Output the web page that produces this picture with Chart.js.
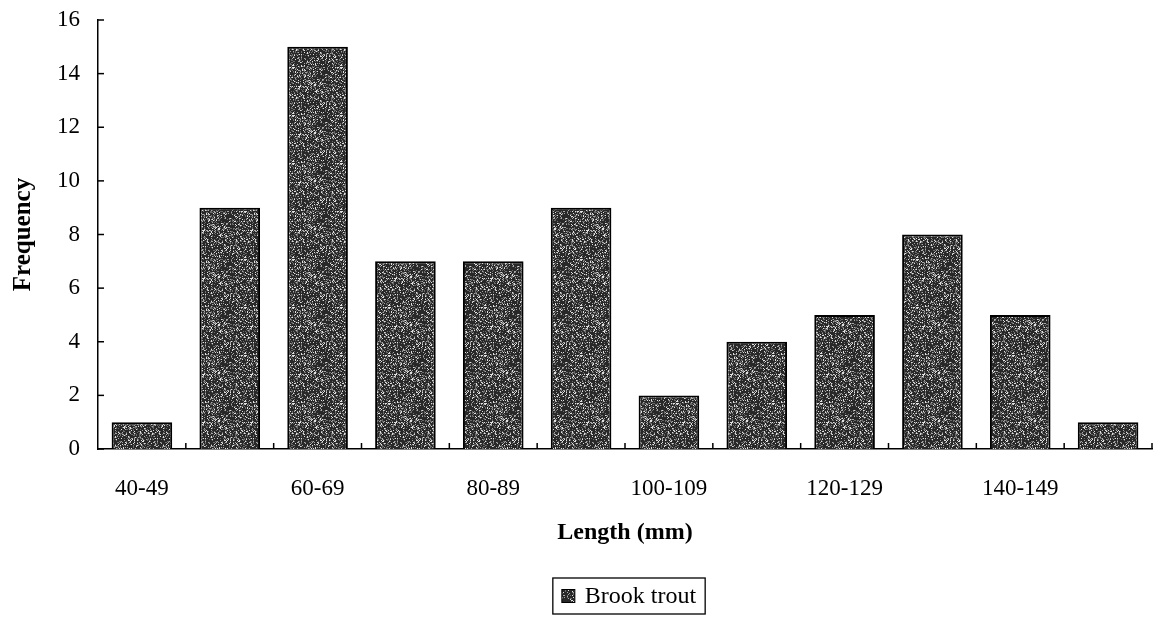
<!DOCTYPE html>
<html><head><meta charset="utf-8">
<script src="https://cdn.jsdelivr.net/npm/chart.js@4"></script>
<style>html,body{margin:0;padding:0;background:#fff;}#wrap{width:1163px;height:620px;}</style>
</head><body><div id="wrap"><canvas id="c" width="1163" height="620"></canvas></div>
<script>
const categories = ["40-49","50-59","60-69","70-79","80-89","90-99","100-109","110-119","120-129","130-139","140-149","150-159"];
const troutValues = [1, 9, 15, 7, 7, 9, 2, 4, 5, 8, 5, 1];
const yTicks = [0, 2, 4, 6, 8, 10, 12, 14, 16];
const seriesName = "Brook trout";

function makePattern(){
  const p = document.createElement('canvas'); p.width = 48; p.height = 48;
  const g = p.getContext('2d');
  g.fillStyle = '#282828'; g.fillRect(0,0,48,48);
  for (let y=0;y<48;y++) for (let x=0;x<48;x++){
    const h = ((x*73856093) ^ (y*19349663)) >>> 0;
    const v = h % 11;
    if (v < 4) { g.fillStyle = v===0 ? '#e0e0e0' : (v===1 ? '#a8a8a8' : '#6a6a6a'); g.fillRect(x,y,1,1); }
  }
  return g.createPattern(p,'repeat');
}
const pat = makePattern();
const FONT = "'Liberation Serif', 'Times New Roman', serif";

const tickPlugin = {
  id: 'ticks',
  afterDraw(chart){
    const ctx = chart.ctx, x = chart.scales.x, y = chart.scales.y;
    const ca = chart.chartArea;
    ctx.save(); ctx.strokeStyle = '#000'; ctx.lineWidth = 1.5;
    yTicks.forEach(v => { const py = y.getPixelForValue(v); ctx.beginPath(); ctx.moveTo(ca.left, py); ctx.lineTo(ca.left+6, py); ctx.stroke(); });
    const w = x.getPixelForValue(1) - x.getPixelForValue(0);
    for (let i=1;i<=categories.length;i++){
      const px = x.getPixelForValue(i-1) + w/2;
      ctx.beginPath(); ctx.moveTo(px, ca.bottom); ctx.lineTo(px, ca.bottom-6); ctx.stroke();
    }
    // legend (drawn centred under the plot area)
    ctx.font = "24px " + FONT;
    const tw = ctx.measureText(seriesName).width;
    const sw = 13, gap = 10, padX = 9;
    const boxW = padX + sw + gap + tw + padX, boxH = 36;
    const cx = (ca.left + ca.right) / 2 + 4, cy = 596;
    const bx = cx - boxW/2, by = cy - boxH/2;
    ctx.fillStyle = '#fff'; ctx.fillRect(bx, by, boxW, boxH);
    ctx.lineWidth = 1.3; ctx.strokeStyle = '#000'; ctx.strokeRect(bx, by, boxW, boxH);
    ctx.fillStyle = pat; ctx.fillRect(bx + padX, cy - sw/2, sw, sw);
    ctx.lineWidth = 1; ctx.strokeRect(bx + padX, cy - sw/2, sw, sw);
    ctx.fillStyle = '#000'; ctx.textBaseline = 'middle'; ctx.textAlign = 'left';
    ctx.fillText(seriesName, bx + padX + sw + gap, cy + 1);
    ctx.restore();
  }
};

new Chart(document.getElementById('c'), {
  type: 'bar',
  data: { labels: categories, datasets: [{ label: seriesName, data: troutValues, backgroundColor: pat, borderColor: '#000', borderWidth: 2, barPercentage: 0.69, categoryPercentage: 1.0 }] },
  options: {
    responsive: false, animation: false, devicePixelRatio: 1,
    layout: { padding: { left: 2, right: 11, top: 20, bottom: 41 } },
    plugins: { tooltip: { enabled: false }, legend: { display: false } },
    scales: {
      x: {
        grid: { display: false, drawTicks: false },
        border: { display: true, color: '#000', width: 1.5 },
        ticks: { autoSkip: false, maxRotation: 0, color: '#000', font: { family: FONT, size: 23 }, padding: 26,
          callback: (v, i) => i % 2 === 0 ? categories[i] : '' },
        title: { display: true, text: 'Length (mm)', color: '#000', font: { family: FONT, size: 24, weight: 'bold' }, padding: { top: 17, bottom: 32 } },
        afterFit: s => { s.height = 130; s.paddingLeft = 0; s.paddingRight = 0; }
      },
      y: {
        min: 0, max: 16,
        grid: { display: false, drawTicks: false },
        border: { display: true, color: '#000', width: 1.5 },
        afterBuildTicks: s => { s.ticks = yTicks.map(v => ({ value: v })); },
        ticks: { color: '#000', font: { family: FONT, size: 23, lineHeight: 1.0 }, padding: 18 },
        title: { display: true, text: 'Frequency', color: '#000', font: { family: FONT, size: 25, weight: 'bold' }, padding: { top: 7, bottom: 3 } },
        afterFit: s => { s.width = 96; s.paddingTop = 0; s.paddingBottom = 0; }
      }
    }
  },
  plugins: [tickPlugin]
});
</script></body></html>
